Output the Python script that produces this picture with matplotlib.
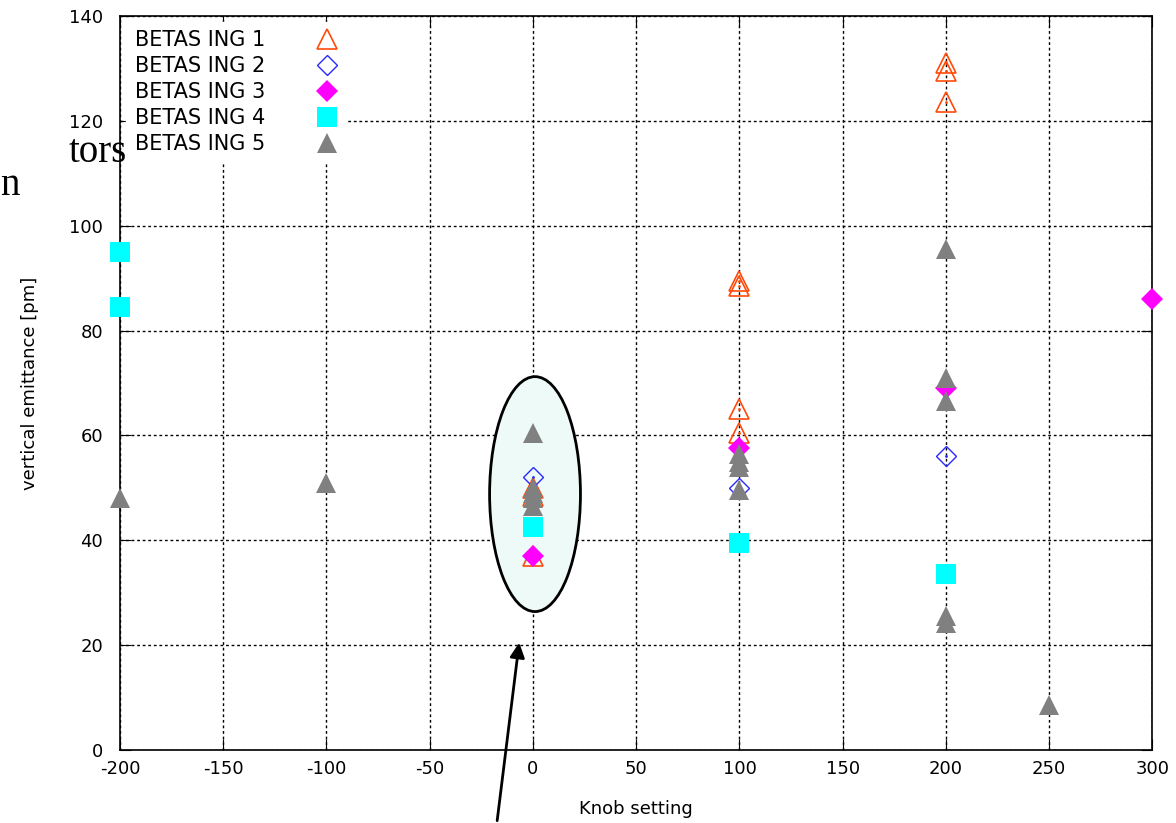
import matplotlib.pyplot as plt
from matplotlib.patches import Ellipse

plt.rcParams['font.family'] = ['DejaVu Sans']
plt.rcParams['axes.unicode_minus'] = False

# data
s1_x = [200, 200, 200, 100, 100, 100, 100, 0, 0, 0]
s1_y = [131, 129.5, 123.5, 89.5, 88.5, 65, 60.5, 50, 48.5, 37]
s2_x = [0, 100, 200]
s2_y = [52, 50, 56]
s3_x = [0, 100, 200, 300]
s3_y = [37, 57.5, 69, 86]
s4_x = [-200, -200, 0, 100, 200]
s4_y = [95, 84.5, 42.5, 39.5, 33.5]
s5_x = [-200, -100, 0, 0, 0, 0, 0, 100, 100, 100, 100, 200, 200, 200, 200, 200, 250]
s5_y = [48, 51, 60.5, 50, 49, 48, 46.5, 56.5, 55, 54, 49.5, 95.5, 71, 66.5, 25.5, 24.3, 8.5]
labels = ['BETAS ING 1', 'BETAS ING 2', 'BETAS ING 3', 'BETAS ING 4', 'BETAS ING 5']

fig = plt.figure(figsize=(11.76, 8.23), dpi=100)
ax = fig.add_axes([0.102, 0.0887, 0.878, 0.892])

# highlighted cluster around knob = 0
ax.add_patch(Ellipse((1, 48.8), 44, 44.8, facecolor='#edfaf7', edgecolor='black', lw=2, zorder=1))

ax.plot(s1_x, s1_y, ls='none', marker='^', ms=14, mfc='none', mec='#ff4a0a', mew=1.2, label=labels[0], zorder=3, clip_on=False)
ax.plot(s1_x, s1_y, ls='none', marker='.', ms=2, color='#ff4a0a', zorder=3)
ax.plot(s2_x, s2_y, ls='none', marker='D', ms=10, mfc='none', mec='#2a2aff', mew=1.0, label=labels[1], zorder=3)
ax.plot(s2_x, s2_y, ls='none', marker='.', ms=2, color='#2a2aff', zorder=3)
ax.plot(s3_x, s3_y, ls='none', marker='D', ms=11, color='#ff00ff', mew=0, label=labels[2], zorder=4, clip_on=False)
ax.plot(s4_x, s4_y, ls='none', marker='s', ms=15, color='#00ffff', mew=0, label=labels[3], zorder=4, clip_on=False)
ax.plot(s5_x, s5_y, ls='none', marker='^', ms=14, color='#808080', mew=0, label=labels[4], zorder=4, clip_on=False)

ax.set_xlim(-200, 300)
ax.set_ylim(0, 140)
ax.set_xticks(range(-200, 301, 50))
ax.set_yticks(range(0, 141, 20))
ax.grid(True, color='black', ls=(0, (2, 2)), lw=1)
ax.set_axisbelow(True)
ax.tick_params(direction='in', length=8, top=True, right=True, labelsize=13)
ax.tick_params(axis='x', pad=7)
ax.tick_params(axis='y', pad=12)
for sp in ax.spines.values():
    sp.set_linewidth(1.2)

ax.set_xlabel('Knob setting', fontsize=13, labelpad=16)
ax.set_ylabel('vertical emittance [pm]', fontsize=13, labelpad=22)

leg = ax.legend(loc='upper left', markerfirst=False, frameon=True, fancybox=False,
                edgecolor='white', framealpha=1, fontsize=15, handletextpad=2.5,
                labelspacing=0.28, borderaxespad=0.3, handlelength=1.0)
leg.set_zorder(5)

# arrow pointing at the ellipse
ax.annotate('', xy=(-6.5, 21), xytext=(-17.5, -14), xycoords='data',
            arrowprops=dict(arrowstyle='-|>', color='black', lw=2, mutation_scale=22),
            annotation_clip=False)

# slide text cut off at the left edge
fig.text(0.058, 0.815, 'tors', fontsize=28, family=['Liberation Serif'], va='center')
fig.text(0.0, 0.775, 'n', fontsize=28, family=['Liberation Serif'], va='center')

fig.savefig('out.png', dpi=100)
